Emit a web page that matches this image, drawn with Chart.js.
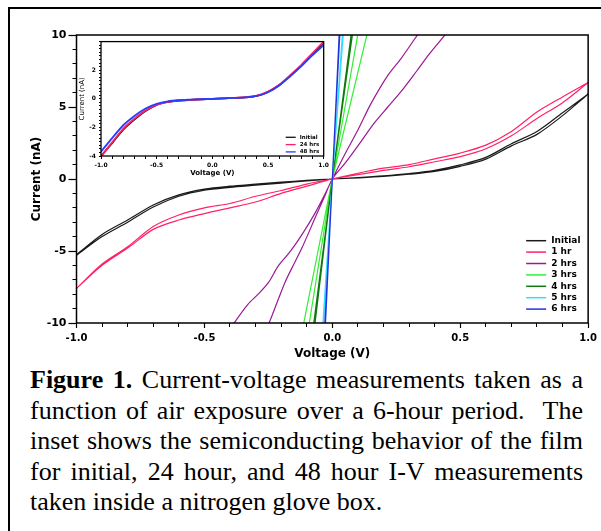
<!DOCTYPE html>
<html>
<head>
<meta charset="utf-8">
<script src="https://cdn.jsdelivr.net/npm/chart.js@4.4.0/dist/chart.umd.min.js"></script>
<style>
  html, body { margin: 0; padding: 0; background: #fff; }
  body { width: 601px; height: 531px; position: relative; overflow: hidden; }
  #frame { position: absolute; left: 8px; top: 7px; width: 700px; height: 600px; border-top: 2px solid #000; border-left: 2px solid #000; }
  #mainWrap { position: absolute; left: 0; top: 0; width: 601px; height: 362px; }
  #insetWrap { position: absolute; left: 76px; top: 35px; width: 256px; height: 145px; }
  #caption { position: absolute; left: 30px; top: 365px; width: 553px; font-family: "Liberation Serif", "Times New Roman", serif; font-size: 26px; line-height: 30.5px; color: #000; }
  #caption div { text-align: justify; text-align-last: justify; white-space: nowrap; }
  #caption div.last { text-align-last: left; }
</style>
</head>
<body>
<div id="frame"></div>
<div id="mainWrap"><canvas id="grafica"></canvas></div>
<div id="insetWrap"><canvas id="inset"></canvas></div>
<div id="caption">
  <div><b>Figure 1.</b> Current-voltage measurements taken as a</div>
  <div>function of air exposure over a 6-hour period.&nbsp; The</div>
  <div>inset shows the semiconducting behavior of the film</div>
  <div>for initial, 24 hour, and 48 hour I-V measurements</div>
  <div class="last">taken inside a nitrogen glove box.</div>
</div>
<script>
// voltage sweep (V) shared by the slow curves
const sweepV = [-1.0, -0.9, -0.8, -0.7, -0.6, -0.5, -0.4, -0.3, -0.2, -0.1, 0.0,
                0.1, 0.2, 0.3, 0.4, 0.5, 0.6, 0.7, 0.8, 0.9, 1.0];

// main plot, current in nA (forward and return sweep)
const initialFwd = [-5.3, -4.0, -3.0, -1.95, -1.2, -0.78, -0.58, -0.43, -0.28, -0.13, 0,
                    0.1, 0.22, 0.38, 0.6, 0.98, 1.5, 2.45, 3.3, 4.6, 5.9];
const initialRev = [-5.25, -3.85, -2.85, -1.8, -1.1, -0.7, -0.5, -0.36, -0.22, -0.1, 0,
                    0.08, 0.18, 0.33, 0.52, 0.88, 1.38, 2.3, 3.1, 4.4, 5.9];
const oneHrFwd = [-7.6, -6.0, -4.8, -3.5, -2.85, -2.4, -2.0, -1.6, -1.0, -0.5, 0,
                  0.4, 0.75, 1.0, 1.4, 1.8, 2.35, 3.3, 4.65, 5.7, 6.7];
const oneHrRev = [-7.6, -5.9, -4.7, -3.3, -2.5, -2.0, -1.7, -1.2, -0.8, -0.35, 0,
                  0.3, 0.6, 0.85, 1.2, 1.55, 2.1, 3.0, 4.2, 5.3, 6.7];

// steep curves: voltage / current pairs along the sweep
const twoHrsV = [-0.46, -0.38, -0.33, -0.29, -0.25, -0.21, -0.165, -0.12, -0.067, -0.03, 0,
                 0.05, 0.1, 0.15, 0.217, 0.27, 0.333, 0.41,
                 0.53, 0.44, 0.38, 0.33, 0.27, 0.217, 0.16, 0.1, 0.05, 0,
                 -0.03, -0.06, -0.119, -0.15, -0.183, -0.21, -0.245, -0.29];
const twoHrsI = [-12, -9.9, -8.7, -8.0, -7.2, -6.0, -5.05, -3.9, -2.35, -1.1, 0,
                 1.75, 3.4, 5.2, 7.2, 8.4, 10, 11.8,
                 12, 10, 8.7, 7.5, 6.1, 5.0, 3.8, 2.3, 1.1, 0,
                 -1.2, -2.4, -4.8, -5.9, -7.1, -8.3, -9.9, -11.7];
const threeHrsV = [-0.108, 0, 0.119, 0.162, 0, -0.134];
const threeHrsI = [-12, 0, 12, 12, 0, -12];
const fourHrsV = [-0.081, 0, 0.088, 0.094, 0, -0.087];
const fourHrsI = [-12, 0, 12, 12, 0, -12];
const fiveHrsV = [-0.041, 0, 0.047, 0.051, 0, -0.044];
const fiveHrsI = [-12, 0, 12, 12, 0, -12];
const sixHrsV = [-0.032, 0, 0.032, 0.035, 0, -0.035];
const sixHrsI = [-12, 0, 12, 12, 0, -12];

const seriesLabels = ['Initial', '1 hr', '2 hrs', '3 hrs', '4 hrs', '5 hrs', '6 hrs'];
const voltTicks = [-1.0, -0.5, 0.0, 0.5, 1.0];
const currentTicks = [-10, -5, 0, 5, 10];

// inset (glove box), current in nA
const insetInitial = [-4.0, -3.1, -2.15, -1.45, -0.85, -0.42, -0.22, -0.13, -0.08, -0.04, 0,
                      0.03, 0.06, 0.1, 0.2, 0.48, 0.95, 1.62, 2.32, 3.12, 3.95];
const inset24 = [-4.05, -3.05, -2.1, -1.4, -0.82, -0.42, -0.22, -0.12, -0.07, -0.03, 0,
                 0.03, 0.07, 0.12, 0.22, 0.5, 0.98, 1.66, 2.38, 3.2, 4.0];
const inset48 = [-3.7, -2.75, -1.85, -1.2, -0.68, -0.35, -0.18, -0.1, -0.06, -0.03, 0,
                 0.03, 0.06, 0.1, 0.2, 0.46, 0.93, 1.58, 2.28, 3.05, 3.75];
const insetLabels = ['Initial', '24 hrs', '48 hrs'];
const insetCurrentTicks = [-4, -2, 0, 2];

Chart.defaults.font.family = 'DejaVu Sans';
Chart.defaults.color = '#000';

function loop(v, fwd, rev) {
    var pts = v.map(function (x, i) { return { x: x, y: fwd[i] }; });
    for (var i = v.length - 1; i >= 0; i--) pts.push({ x: v[i], y: rev[i] });
    return pts;
}

function pares(v, c) {
    return v.map(function (x, i) { return { x: x, y: c[i] }; });
}

// white box + black frame around the plot area
const marco = {
    id: 'marco',
    beforeDraw(chart, args, o) {
        if (!o.fill) return;
        const { ctx, chartArea: a } = chart;
        ctx.save();
        ctx.fillStyle = '#fff';
        ctx.fillRect(a.left, a.top, a.right - a.left, a.bottom - a.top);
        ctx.restore();
    },
    afterDatasetsDraw(chart, args, o) {
        const { ctx, chartArea: a } = chart;
        ctx.save();
        ctx.strokeStyle = '#000';
        ctx.lineWidth = o.width;
        ctx.strokeRect(a.left, a.top, a.right - a.left, a.bottom - a.top);
        ctx.restore();
    }
};

// small key inside the plot area, bottom right
const leyenda = {
    id: 'leyenda',
    afterDraw(chart, args, o) {
        const { ctx, chartArea: a } = chart;
        ctx.save();
        ctx.font = o.font;
        ctx.textBaseline = 'middle';
        ctx.fillStyle = '#000';
        chart.data.datasets.forEach(function (ds, i) {
            const x = a.right - o.right;
            const y = a.bottom - o.bottom + i * o.rowH;
            ctx.strokeStyle = ds.borderColor;
            ctx.lineWidth = o.lineW;
            ctx.beginPath();
            ctx.moveTo(x, y);
            ctx.lineTo(x + o.len, y);
            ctx.stroke();
            ctx.fillText(ds.label, x + o.len + o.gap, y);
        });
        ctx.restore();
    }
};

const colores = ['#1a1a1a', '#ff2266', '#9a1a96', '#33ee33', '#117711', '#33ddff', '#2233dd'];
const datos = [
    loop(sweepV, initialFwd, initialRev),
    loop(sweepV, oneHrFwd, oneHrRev),
    pares(twoHrsV, twoHrsI),
    pares(threeHrsV, threeHrsI),
    pares(fourHrsV, fourHrsI),
    pares(fiveHrsV, fiveHrsI),
    pares(sixHrsV, sixHrsI)
];

function ejeMenor(pos, min, max, step, len) {
    return {
        type: 'linear', position: pos, min: min, max: max, weight: 0,
        ticks: { stepSize: step, display: false, autoSkip: false },
        grid: { display: true, drawOnChartArea: false, tickLength: len, tickColor: '#000', tickWidth: 1 },
        border: { display: false },
        afterFit: function (s) { if (pos === 'left') s.width = 0; else s.height = 0; }
    };
}

new Chart(document.getElementById('grafica'), {
    type: 'line',
    data: {
        datasets: datos.map(function (d, i) {
            return {
                label: seriesLabels[i],
                data: d,
                borderColor: colores[i],
                borderWidth: 1.2,
                pointRadius: 0,
                tension: i < 3 ? 0.3 : 0,
                order: datos.length - i
            };
        })
    },
    options: {
        responsive: true,
        maintainAspectRatio: false,
        animation: false,
        events: [],
        layout: { padding: { left: 0, top: 35, right: 8, bottom: 0 } },
        plugins: {
            legend: { display: false },
            tooltip: { enabled: false },
            marco: { width: 1.5, fill: false },
            leyenda: { font: 'bold 9px "DejaVu Sans"', right: 62, bottom: 82.3, rowH: 11.4, len: 20, gap: 5, lineW: 1.5 }
        },
        scales: {
            x: {
                type: 'linear', position: 'bottom', min: -1, max: 1, weight: 1,
                afterBuildTicks: function (s) { s.ticks = voltTicks.map(function (v) { return { value: v }; }); },
                ticks: { callback: function (v) { return v.toFixed(1); }, font: { size: 10, weight: 'bold' }, padding: 4, maxRotation: 0, autoSkip: false },
                grid: { display: true, drawOnChartArea: false, tickLength: 5, tickColor: '#000', tickWidth: 1.2 },
                border: { display: false },
                title: { display: true, text: 'Voltage (V)', font: { size: 12, weight: 'bold' }, padding: { top: 0, bottom: 1 } },
                afterFit: function (s) { s.height = 39; }
            },
            xm: ejeMenor('bottom', -1, 1, 0.1, 4),
            y: {
                type: 'linear', position: 'left', min: -10, max: 10, weight: 1,
                afterBuildTicks: function (s) { s.ticks = currentTicks.map(function (v) { return { value: v }; }); },
                ticks: { callback: function (v) { return String(v); }, font: { size: 11, weight: 'bold' }, padding: 2, autoSkip: false },
                grid: { display: true, drawOnChartArea: false, tickLength: 8, tickColor: '#000', tickWidth: 1.2 },
                border: { display: false },
                title: { display: true, text: 'Current (nA)', font: { size: 12, weight: 'bold' }, padding: { top: 30, bottom: 0 } },
                afterFit: function (s) { s.width = 76.5; }
            },
            ym: ejeMenor('left', -10, 10, 1, 4)
        }
    },
    plugins: [marco, leyenda]
});

const coloresInset = ['#111111', '#ff2060', '#2a3cff'];
const datosInset = [insetInitial, inset24, inset48];

new Chart(document.getElementById('inset'), {
    type: 'line',
    data: {
        datasets: datosInset.map(function (d, i) {
            return {
                label: insetLabels[i],
                data: pares(sweepV, d),
                borderColor: coloresInset[i],
                borderWidth: 1.8,
                pointRadius: 0,
                tension: 0.3,
                order: datosInset.length - i
            };
        })
    },
    options: {
        responsive: true,
        maintainAspectRatio: false,
        animation: false,
        events: [],
        layout: { padding: { left: 0, top: 1, right: 4, bottom: 0 } },
        plugins: {
            legend: { display: false },
            tooltip: { enabled: false },
            marco: { width: 1.3, fill: true },
            leyenda: { font: 'bold 5.5px "DejaVu Sans"', right: 38, bottom: 18.7, rowH: 7.3, len: 10, gap: 4, lineW: 1.3 }
        },
        scales: {
            x: {
                type: 'linear', position: 'bottom', min: -1, max: 1,
                ticks: {
                    stepSize: 0.1, autoSkip: false, maxRotation: 0, padding: 3, font: { size: 6, weight: 'bold' },
                    callback: function (v) { var r = Math.round(v * 10) / 10; return voltTicks.indexOf(r) >= 0 ? r.toFixed(1) : ''; }
                },
                grid: { display: true, drawOnChartArea: false, tickLength: 3, tickColor: '#000', tickWidth: 1 },
                border: { display: false },
                title: { display: true, text: 'Voltage (V)', font: { size: 7, weight: 'bold' }, padding: { top: 0, bottom: 3 } },
                afterFit: function (s) { s.height = 24; }
            },
            y: {
                type: 'linear', position: 'left', min: -4, max: 4,
                ticks: {
                    stepSize: 0.25, autoSkip: false, padding: 3, font: { size: 6, weight: 'bold' },
                    callback: function (v) { return insetCurrentTicks.indexOf(v) >= 0 ? String(v) : ''; }
                },
                grid: { display: true, drawOnChartArea: false, tickLength: 2, tickColor: '#000', tickWidth: 1 },
                border: { display: false },
                title: { display: true, text: 'Current (nA)', font: { size: 7 }, padding: { top: 2, bottom: 0 } },
                afterFit: function (s) { s.width = 25; }
            }
        }
    },
    plugins: [marco, leyenda]
});
</script>
</body>
</html>
